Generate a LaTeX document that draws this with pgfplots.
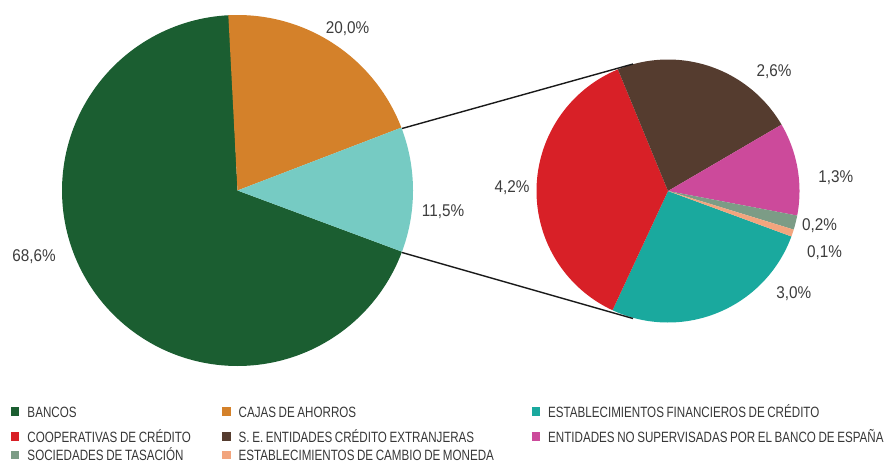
\documentclass[border=0pt]{standalone}
\usepackage{fontspec}
\setmainfont{Liberation Sans}
\newfontfamily\labfont[FakeStretch=0.9]{Liberation Sans}
\newfontfamily\legfont[FakeStretch=0.78,WordSpace=0.8]{Liberation Sans}
\usepackage{pgfplots}
\pgfplotsset{compat=1.18}
\definecolor{cBancos}{RGB}{27,94,49}
\definecolor{cCajas}{RGB}{212,129,42}
\definecolor{cOtros}{RGB}{118,203,195}
\definecolor{cEFC}{RGB}{26,169,158}
\definecolor{cCoop}{RGB}{216,32,39}
\definecolor{cSE}{RGB}{85,60,47}
\definecolor{cENS}{RGB}{204,74,155}
\definecolor{cSoc}{RGB}{124,156,134}
\definecolor{cCambio}{RGB}{242,165,126}
\definecolor{labtext}{RGB}{60,60,60}
\definecolor{legtext}{RGB}{55,55,55}
% data (percent)
\def\vBancos{68.6}\def\vCajas{20.0}\def\vOtros{11.5}
\def\vCoop{4.2}\def\vSE{2.6}\def\vENS{1.3}\def\vSoc{0.2}\def\vCambio{0.1}\def\vEFC{3.0}
% slice: [opts] cx cy r a1 a2 color
\newcommand\pieslice[7][]{%
  \edef\temp{\noexpand\addplot[fill=#7, draw=none, domain=#5:#6, samples=150, #1]
    ({#2+#4*cos(x)}, {#3-#4*sin(x)}) -- (axis cs:#2,#3) -- cycle;}%
  \temp}
\newcommand\colA[1]{\makebox[194.7pt][l]{#1}}
\newcommand\colB[1]{\makebox[293pt][l]{#1}}
\begin{document}
\begin{tikzpicture}
\pgfmathsetmacro\kA{360/100}
\pgfmathsetmacro\pA{93}
\pgfmathsetmacro\pB{\pA-\vCajas*\kA}
\pgfmathsetmacro\pC{\pB-\vOtros*\kA}
\pgfmathsetmacro\pD{\pC-\vBancos*\kA}
\pgfmathsetmacro\kB{360/(\vCoop+\vSE+\vENS+\vSoc+\vCambio+\vEFC)}
\pgfmathsetmacro\qA{112.4}
\pgfmathsetmacro\qB{\qA-\vSE*\kB}
\pgfmathsetmacro\qC{\qB-\vENS*\kB}
\pgfmathsetmacro\qD{\qC-\vSoc*\kB}
\pgfmathsetmacro\qE{\qD-\vCambio*\kB}
\pgfmathsetmacro\qF{\qE-\vEFC*\kB}
\pgfmathsetmacro\qG{\qF-\vCoop*\kB}
\begin{axis}[
  width=888pt, height=463pt, scale only axis,
  xmin=0, xmax=888, ymin=0, ymax=463, y dir=reverse,
  hide axis, clip=false,
  legend columns=3,
  legend style={
    draw=none, fill=none, inner sep=0pt, outer sep=0pt,
    at={(axis cs:11,406.3)}, anchor=north west,
    column sep=0pt, row sep=0pt,
    font={\legfont\fontsize{14.9}{16}\selectfont},
    cells={anchor=base west},
    nodes={inner sep=0pt, outer sep=0pt, text height=10.7pt, anchor=base west, text=legtext},
    /tikz/row 1/.style={nodes={text depth=14.3pt}},
    /tikz/row 2/.style={nodes={text depth=7.6pt}},
    /tikz/row 3/.style={nodes={text depth=3pt}},
  },
  legend image code/.code={\fill[#1] (0pt,1.5pt) rectangle (8.4pt,9.8pt); \path (16.5pt,1.5pt);},
]
\pieslice{237.5}{190.5}{175.5}{\pD}{\pC}{cBancos}
\addlegendentry{\colA{BANCOS}}
\pieslice{237.5}{190.5}{175.5}{\pB}{\pA}{cCajas}
\addlegendentry{\colB{CAJAS DE AHORROS}}
\pieslice[forget plot]{237.5}{190.5}{175.5}{\pC}{\pB}{cOtros}
\pieslice{668}{191}{131.5}{\qF}{\qE}{cEFC}
\addlegendentry{ESTABLECIMIENTOS FINANCIEROS DE CRÉDITO}
\pieslice{668}{191}{131.5}{\qG}{\qF}{cCoop}
\addlegendentry{\colA{COOPERATIVAS DE CRÉDITO}}
\pieslice{668}{191}{131.5}{\qB}{\qA}{cSE}
\addlegendentry{\colB{S. E. ENTIDADES CRÉDITO EXTRANJERAS}}
\pieslice{668}{191}{131.5}{\qC}{\qB}{cENS}
\addlegendentry{ENTIDADES NO SUPERVISADAS POR EL BANCO DE ESPAÑA}
\pieslice{668}{191}{131.5}{\qD}{\qC}{cSoc}
\addlegendentry{\colA{SOCIEDADES DE TASACIÓN}}
\pieslice{668}{191}{131.5}{\qE}{\qD}{cCambio}
\addlegendentry{\colB{ESTABLECIMIENTOS DE CAMBIO DE MONEDA}}
% connector lines
\addplot[color={black!90}, line width=1.4pt, forget plot] coordinates {(402,128.5) (633,64)};
\addplot[color={black!90}, line width=1.4pt, forget plot] coordinates {(402,252.5) (633,318.5)};
% value labels
\begin{scope}[every node/.style={anchor=base, inner sep=0pt, text=labtext, font={\labfont\fontsize{17}{20}\selectfont}}]
\node at (axis cs:347.5,33.3) {20,0\%};
\node at (axis cs:34,261.7) {68,6\%};
\node at (axis cs:443,216.7) {11,5\%};
\node at (axis cs:512,192.7) {4,2\%};
\node at (axis cs:774,76.7) {2,6\%};
\node at (axis cs:835.8,182.7) {1,3\%};
\node at (axis cs:819.5,230) {0,2\%};
\node at (axis cs:824.5,257.3) {0,1\%};
\node at (axis cs:793.7,298) {3,0\%};
\end{scope}
\end{axis}
\pgfresetboundingbox
\path[use as bounding box] (current axis.south west) rectangle (current axis.north east);
\end{tikzpicture}
\end{document}
